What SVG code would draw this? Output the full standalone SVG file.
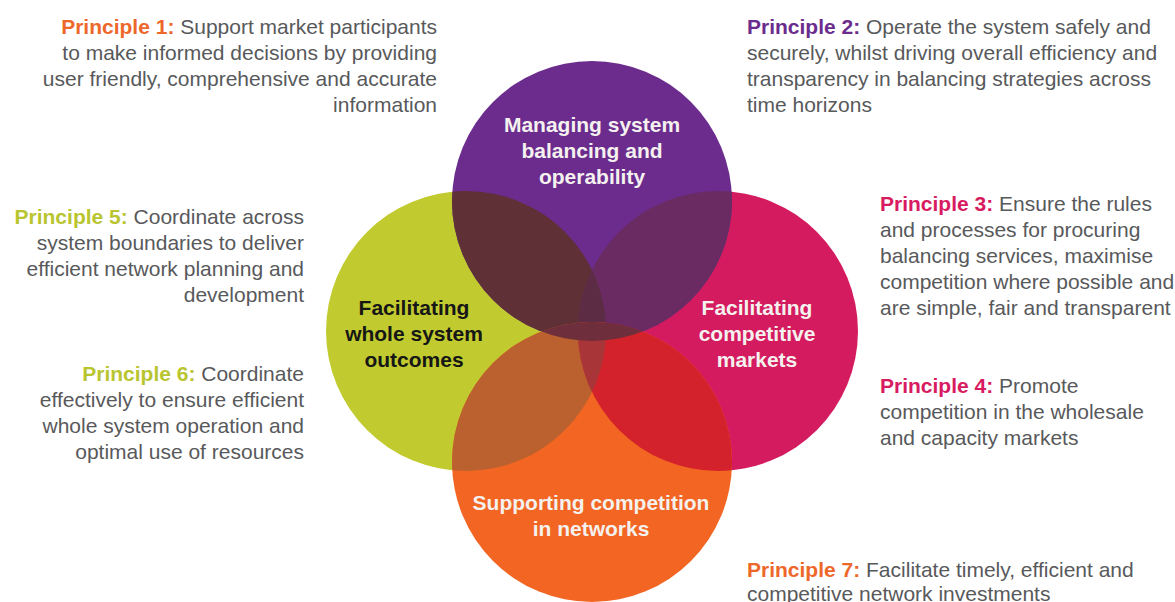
<svg xmlns="http://www.w3.org/2000/svg" width="1175" height="602" viewBox="0 0 1175 602">
<style>
.t{font-family:"Liberation Sans",Arial,sans-serif;font-size:21px;fill:#58595b}
.b{font-weight:bold}
.lbl{font-family:"Liberation Sans",Arial,sans-serif;font-size:21px;font-weight:bold;text-anchor:middle}
.w{fill:#f4f1ee}
.k{fill:#161616}
.end{text-anchor:end}
.c1{fill:#ee672a}.c2{fill:#6b2c8e}.c3{fill:#d81b60}.c5{fill:#b9c52f}
</style>
<defs>
<clipPath id="cP"><circle cx="592" cy="201" r="140"/></clipPath>
<clipPath id="cG"><circle cx="466" cy="331" r="140"/></clipPath>
<clipPath id="cK"><circle cx="718" cy="331" r="140"/></clipPath>
<clipPath id="cO"><circle cx="592" cy="462" r="140"/></clipPath>
</defs>
<rect width="1175" height="602" fill="#ffffff"/>

<g id="node-whole-system">
<circle cx="466" cy="331" r="140" fill="#c1cb2f"/>
</g>
<g id="node-competitive-markets">
<circle cx="718" cy="331" r="140" fill="#d51b5f"/>
</g>
<g id="node-competition-networks">
<circle cx="592" cy="462" r="140" fill="#f26522"/>
</g>
<g id="node-balancing">
<circle cx="592" cy="201" r="140" fill="#6b2c8e"/>
</g>

<g id="overlaps">
<g clip-path="url(#cP)">
<circle cx="466" cy="331" r="140" fill="#5f3036"/>
<circle cx="718" cy="331" r="140" fill="#6a2b63"/>
<g clip-path="url(#cG)"><circle cx="718" cy="331" r="140" fill="#5c2c45"/></g>
</g>
<g clip-path="url(#cO)">
<circle cx="466" cy="331" r="140" fill="#ba612f"/>
<circle cx="718" cy="331" r="140" fill="#d3222b"/>
<g clip-path="url(#cG)"><circle cx="718" cy="331" r="140" fill="#a83538"/></g>
<circle cx="592" cy="201" r="140" fill="#6e2e3c"/>
</g>
</g>

<g id="labels">
<text class="lbl w" x="592" y="132">Managing system</text>
<text class="lbl w" x="592" y="158">balancing and</text>
<text class="lbl w" x="592" y="184">operability</text>
<text class="lbl k" x="414" y="315">Facilitating</text>
<text class="lbl k" x="414" y="341">whole system</text>
<text class="lbl k" x="414" y="367">outcomes</text>
<text class="lbl w" x="757" y="315">Facilitating</text>
<text class="lbl w" x="757" y="341">competitive</text>
<text class="lbl w" x="757" y="367">markets</text>
<text class="lbl w" x="591" y="510">Supporting competition</text>
<text class="lbl w" x="591" y="536">in networks</text>
</g>

<g id="principle-1">
<text class="t end" x="437" y="34"><tspan class="b c1">Principle 1:</tspan> Support market participants</text>
<text class="t end" x="437" y="60">to make informed decisions by providing</text>
<text class="t end" x="437" y="86">user friendly, comprehensive and accurate</text>
<text class="t end" x="437" y="112">information</text>
</g>
<g id="principle-2">
<text class="t" x="747" y="34"><tspan class="b c2">Principle 2:</tspan> Operate the system safely and</text>
<text class="t" x="747" y="60">securely, whilst driving overall efficiency and</text>
<text class="t" x="747" y="86">transparency in balancing strategies across</text>
<text class="t" x="747" y="112">time horizons</text>
</g>
<g id="principle-3">
<text class="t" x="880" y="211"><tspan class="b c3">Principle 3:</tspan> Ensure the rules</text>
<text class="t" x="880" y="237">and processes for procuring</text>
<text class="t" x="880" y="263">balancing services, maximise</text>
<text class="t" x="880" y="289">competition where possible and</text>
<text class="t" x="880" y="315">are simple, fair and transparent</text>
</g>
<g id="principle-4">
<text class="t" x="880" y="393"><tspan class="b c3">Principle 4:</tspan> Promote</text>
<text class="t" x="880" y="419">competition in the wholesale</text>
<text class="t" x="880" y="445">and capacity markets</text>
</g>
<g id="principle-5">
<text class="t end" x="304" y="224"><tspan class="b c5">Principle 5:</tspan> Coordinate across</text>
<text class="t end" x="304" y="250">system boundaries to deliver</text>
<text class="t end" x="304" y="276">efficient network planning and</text>
<text class="t end" x="304" y="302">development</text>
</g>
<g id="principle-6">
<text class="t end" x="304" y="381"><tspan class="b c5">Principle 6:</tspan> Coordinate</text>
<text class="t end" x="304" y="407">effectively to ensure efficient</text>
<text class="t end" x="304" y="433">whole system operation and</text>
<text class="t end" x="304" y="459">optimal use of resources</text>
</g>
<g id="principle-7">
<text class="t" x="747" y="577"><tspan class="b c1">Principle 7:</tspan> Facilitate timely, efficient and</text>
<text class="t" x="747" y="601">competitive network investments</text>
</g>
</svg>
